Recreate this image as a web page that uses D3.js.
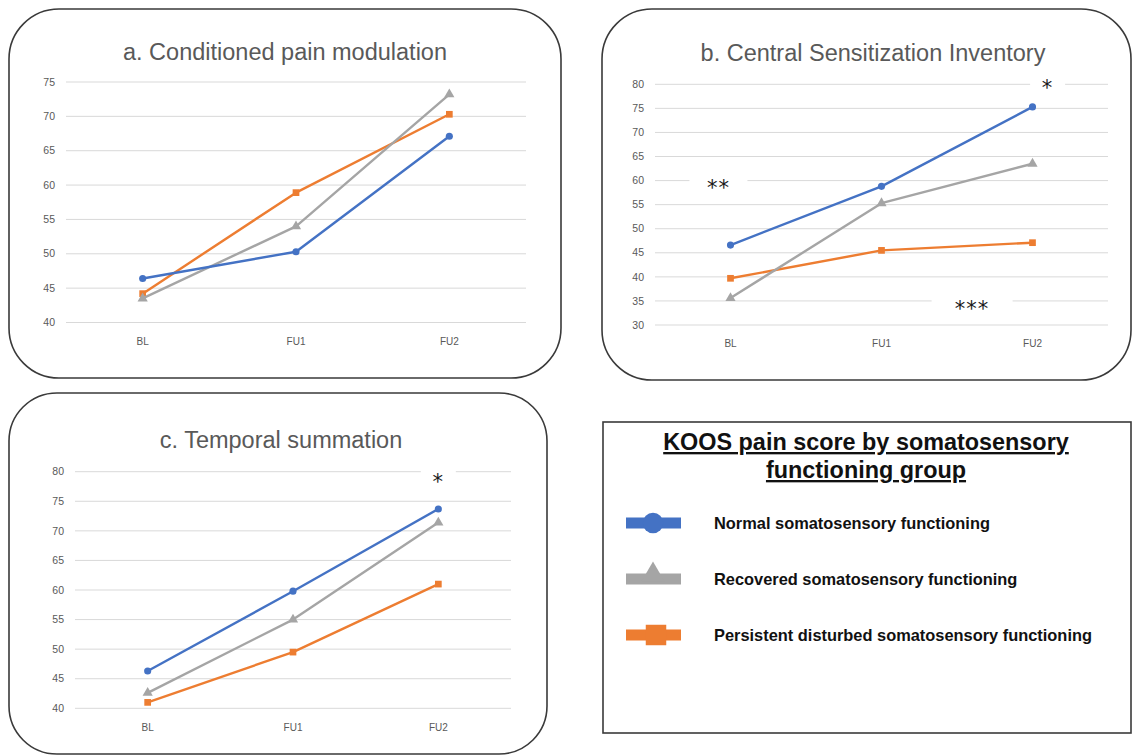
<!DOCTYPE html>
<html lang="en">
<head>
  <meta charset="UTF-8">
  <title>KOOS pain score by somatosensory functioning group</title>
  <script src="https://d3js.org/d3.v7.min.js"></script>
  <style>
    body { margin: 0; background: #fff; }
    .panel-box { fill: #fff; stroke: #3a3a3a; stroke-width: 1.6px; }
    .grid line { stroke: #d9d9d9; stroke-width: 1px; }
    .tick-label { font-family: "Liberation Sans", Arial, sans-serif; font-size: 10.5px; fill: #595959; }
    .cat-label { font-family: "Liberation Sans", Arial, sans-serif; font-size: 10px; fill: #595959; }
    .panel-title { font-family: "Liberation Sans", Arial, sans-serif; font-size: 23.5px; fill: #595959; }
    .star { font-family: "DejaVu Sans", sans-serif; font-size: 21px; fill: #1a1a1a; }
    .legend-title { font-family: "Liberation Sans", Arial, sans-serif; font-size: 23.4px; font-weight: bold; fill: #111; text-decoration: underline; }
    .legend-item { font-family: "Liberation Sans", Arial, sans-serif; font-size: 16.4px; font-weight: bold; fill: #111; }
  </style>
</head>
<body>
<svg id="chart" width="1132" height="755"></svg>
<script>
  // ---- data ----
  const categories = ["BL", "FU1", "FU2"];
  const groupNames = ["Normal somatosensory functioning",
                      "Recovered somatosensory functioning",
                      "Persistent disturbed somatosensory functioning"];
  const groupColors = ["#4472c4", "#a5a5a5", "#ed7d31"];
  const groupShapes = ["circle", "triangle", "square"];

  // a. Conditioned pain modulation
  const cpmNormal     = [46.4, 50.3, 67.1];
  const cpmRecovered  = [43.5, 54.0, 73.2];
  const cpmPersistent = [44.2, 58.9, 70.3];
  const cpmTicks = [40, 45, 50, 55, 60, 65, 70, 75];

  // b. Central Sensitization Inventory
  const csiNormal     = [46.6, 58.8, 75.3];
  const csiRecovered  = [35.6, 55.3, 63.5];
  const csiPersistent = [39.7, 45.5, 47.1];
  const csiTicks = [30, 35, 40, 45, 50, 55, 60, 65, 70, 75, 80];
  const csiStars = [{ text: "*", at: 2.1, value: 80.4 },
                    { text: "**", at: -0.08, value: 59.8 },
                    { text: "***", at: 1.6, value: 34.6 }];

  // c. Temporal summation
  const tsNormal     = [46.3, 59.8, 73.7];
  const tsRecovered  = [42.6, 55.0, 71.4];
  const tsPersistent = [41.0, 49.5, 61.0];
  const tsTicks = [40, 45, 50, 55, 60, 65, 70, 75, 80];
  const tsStars = [{ text: "*", at: 2.0, value: 79.2 }];

  // ---- layout of the three panels ----
  const panels = [
    { title: "a. Conditioned pain modulation", series: [cpmNormal, cpmRecovered, cpmPersistent],
      ticks: cpmTicks, stars: [],
      box: { x: 9, y: 9, w: 552, h: 369, r: 50 },
      plot: { left: 66, right: 526, top: 82, bottom: 322.5 },
      titleX: 285, titleY: 60, catY: 345 },
    { title: "b. Central Sensitization Inventory", series: [csiNormal, csiRecovered, csiPersistent],
      ticks: csiTicks, stars: csiStars,
      box: { x: 602, y: 9, w: 529, h: 371, r: 50 },
      plot: { left: 655, right: 1108, top: 84.3, bottom: 325 },
      titleX: 873, titleY: 61, catY: 347 },
    { title: "c. Temporal summation", series: [tsNormal, tsRecovered, tsPersistent],
      ticks: tsTicks, stars: tsStars,
      box: { x: 9, y: 393, w: 538, h: 361, r: 48 },
      plot: { left: 75, right: 511, top: 471.7, bottom: 708.3 },
      titleX: 281, titleY: 448, catY: 731 }
  ];

  const svg = d3.select("#chart");

  const symbolFor = {
    circle: d3.symbolCircle,
    triangle: d3.symbolTriangle,
    square: d3.symbolSquare
  };

  panels.forEach(p => {
    const g = svg.append("g");

    g.append("rect").attr("class", "panel-box")
      .attr("x", p.box.x).attr("y", p.box.y)
      .attr("width", p.box.w).attr("height", p.box.h)
      .attr("rx", p.box.r).attr("ry", p.box.r);

    g.append("text").attr("class", "panel-title")
      .attr("x", p.titleX).attr("y", p.titleY)
      .attr("text-anchor", "middle")
      .text(p.title);

    const x = d3.scalePoint().domain(categories)
      .range([p.plot.left, p.plot.right]).padding(0.5);
    const y = d3.scaleLinear().domain(d3.extent(p.ticks))
      .range([p.plot.bottom, p.plot.top]);

    // gridlines
    g.append("g").attr("class", "grid")
      .selectAll("line").data(p.ticks).join("line")
      .attr("x1", p.plot.left).attr("x2", p.plot.right)
      .attr("y1", d => y(d)).attr("y2", d => y(d));

    // y tick labels
    g.selectAll("text.tick-label").data(p.ticks).join("text")
      .attr("class", "tick-label")
      .attr("x", p.plot.left - 11).attr("y", d => y(d))
      .attr("dy", "0.35em").attr("text-anchor", "end")
      .text(d => d);

    // category labels
    g.selectAll("text.cat-label").data(categories).join("text")
      .attr("class", "cat-label")
      .attr("x", d => x(d)).attr("y", p.catY)
      .attr("text-anchor", "middle")
      .text(d => d);

    // significance markers with white boxes that interrupt the gridlines
    const step = x.step();
    const stars = g.selectAll("g.star-g").data(p.stars).join("g").attr("class", "star-g")
      .attr("transform", d => `translate(${x(categories[0]) + d.at * step},${y(d.value)})`);
    stars.append("rect")
      .attr("x", d => -(d.text.length * 23 + 12) / 2).attr("y", -8)
      .attr("width", d => d.text.length * 23 + 12).attr("height", 16)
      .attr("fill", "#fff");
    stars.append("text").attr("class", "star")
      .attr("text-anchor", "middle").attr("dy", "0.62em")
      .attr("letter-spacing", 1)
      .text(d => d.text);

    // lines + markers, drawn so that the normal group ends up on top
    const line = d3.line().x((d, i) => x(categories[i])).y(d => y(d));
    [2, 1, 0].forEach(k => {
      const vals = p.series[k];
      g.append("path").datum(vals)
        .attr("fill", "none").attr("stroke", groupColors[k])
        .attr("stroke-width", 2.4).attr("stroke-linejoin", "round")
        .attr("d", line);
      g.selectAll(null).data(vals).join("path")
        .attr("transform", (d, i) => `translate(${x(categories[i])},${y(d)})`)
        .attr("fill", groupColors[k])
        .attr("d", d3.symbol().type(symbolFor[groupShapes[k]]).size(groupShapes[k] === "circle" ? 40 : 45));
    });
  });

  // ---- legend box ----
  const legend = svg.append("g");
  legend.append("rect")
    .attr("x", 603).attr("y", 422).attr("width", 528).attr("height", 311)
    .attr("fill", "#fff").attr("stroke", "#3a3a3a").attr("stroke-width", 1.6);

  const legendTitle = ["KOOS pain score by somatosensory", "functioning group"];
  legend.selectAll("text.legend-title").data(legendTitle).join("text")
    .attr("class", "legend-title")
    .attr("x", 866).attr("y", (d, i) => 450 + i * 28)
    .attr("text-anchor", "middle")
    .text(d => d);

  const rowY = d3.scalePoint().domain(groupNames).range([523, 635]);
  const rows = legend.selectAll("g.row").data(groupNames).join("g")
    .attr("class", "row")
    .attr("transform", d => `translate(0,${rowY(d)})`);
  rows.append("line")
    .attr("x1", 626).attr("x2", 681)
    .attr("stroke", (d, i) => groupColors[i]).attr("stroke-width", 11);
  rows.append("path")
    .attr("transform", (d, i) => `translate(${i === 2 ? 656 : 653},${i === 1 ? -4 : 0})`)
    .attr("fill", (d, i) => groupColors[i])
    .attr("d", (d, i) => d3.symbol().type(symbolFor[groupShapes[i]])
      .size(groupShapes[i] === "circle" ? 330 : (groupShapes[i] === "square" ? 420 : 240))());
  rows.append("text").attr("class", "legend-item")
    .attr("x", 714).attr("dy", "0.36em")
    .text(d => d);
</script>
</body>
</html>
